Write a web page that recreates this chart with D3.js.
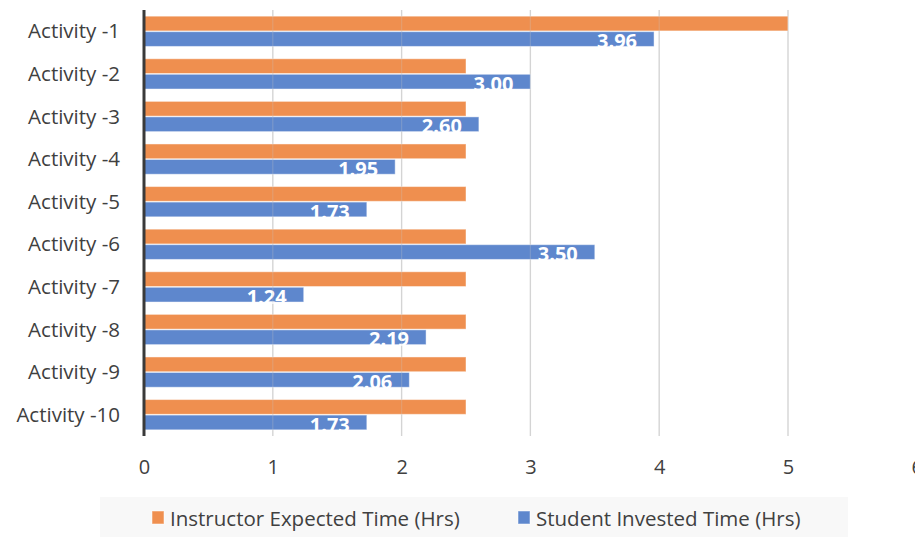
<!DOCTYPE html>
<html>
<head>
<meta charset="utf-8">
<script src="https://cdn.jsdelivr.net/npm/d3@7"></script>
<style>
  html, body { margin: 0; padding: 0; background: #fff; }
  svg { display: block; }
  text { font-family: "Open Sans", sans-serif; }
</style>
</head>
<body>
<svg id="chart" width="915" height="537"></svg>
<script>
const categories = ["Activity -1", "Activity -2", "Activity -3", "Activity -4", "Activity -5",
                    "Activity -6", "Activity -7", "Activity -8", "Activity -9", "Activity -10"];
const expectedHrs = [5, 2.5, 2.5, 2.5, 2.5, 2.5, 2.5, 2.5, 2.5, 2.5];
const investedHrs = [3.96, 3.00, 2.60, 1.95, 1.73, 3.50, 1.24, 2.19, 2.06, 1.73];
const xTicks = [0, 1, 2, 3, 4, 5, 6];
const seriesNames = ["Instructor Expected Time (Hrs)", "Student Invested Time (Hrs)"];
const seriesColors = ["#EF8F4F", "#5E87CD"];

const svg = d3.select("#chart");
const plotLeft = 144, plotTop = 10, plotBottom = 436;

const x = d3.scaleLinear().domain([0, 6]).range([plotLeft, plotLeft + 6 * 128.8]);
const y = d3.scaleBand().domain(categories).range([plotTop, plotBottom]).paddingInner(0.29).paddingOuter(0.145);
const sub = d3.scaleBand().domain([0, 1]).range([0, y.bandwidth()]).paddingInner(0.05);

// vertical gridlines
svg.append("g").selectAll("line").data(xTicks.filter(d => d > 0)).join("line")
  .attr("x1", d => x(d)).attr("x2", d => x(d))
  .attr("y1", plotTop).attr("y2", plotBottom)
  .attr("stroke", "#D9D9D9").attr("stroke-width", 1.3);

// bars
const rows = categories.map((c, i) => ({ c, v: [expectedHrs[i], investedHrs[i]] }));
const groups = svg.append("g").selectAll("g").data(rows).join("g")
  .attr("transform", d => `translate(0,${y(d.c)})`);

groups.selectAll("rect").data(d => d.v.map((v, k) => ({ v, k }))).join("rect")
  .attr("x", x(0))
  .attr("y", d => sub(d.k))
  .attr("width", d => x(d.v) - x(0))
  .attr("height", sub.bandwidth())
  .attr("fill", d => seriesColors[d.k])
  .attr("stroke", "rgba(255,255,255,0.45)")
  .attr("stroke-width", 1);

// value labels on the invested-time bars (white, so the part below the bar disappears)
groups.append("text")
  .attr("x", d => x(d.v[1]) - 17)
  .attr("y", sub(1) + 16.5)
  .attr("text-anchor", "end")
  .attr("fill", "#fff")
  .attr("font-weight", "bold")
  .attr("font-size", 20)
  .text(d => d3.format(".2f")(d.v[1]));

// gridlines faintly showing over the bars
svg.append("g").selectAll("line").data(xTicks.filter(d => d > 0 && d < 6)).join("line")
  .attr("x1", d => x(d)).attr("x2", d => x(d))
  .attr("y1", plotTop).attr("y2", plotBottom)
  .attr("stroke", "rgba(200,200,200,0.25)").attr("stroke-width", 1.3);

// category axis line
svg.append("line")
  .attr("x1", x(0)).attr("x2", x(0))
  .attr("y1", plotTop).attr("y2", plotBottom)
  .attr("stroke", "#3A3A3A").attr("stroke-width", 3);

// category labels
svg.append("g").selectAll("text").data(categories).join("text")
  .attr("x", 120)
  .attr("y", d => y(d) + y.bandwidth() / 2 + 7)
  .attr("text-anchor", "end")
  .attr("fill", "#404040")
  .attr("font-size", 20.5)
  .text(d => d);

// value axis labels
const xAxis = d3.axisBottom(x).tickValues(xTicks).tickFormat(d3.format("d")).tickSize(0).tickPadding(0);
const gx = svg.append("g").attr("transform", `translate(0,${474})`).call(xAxis);
gx.select(".domain").remove();
gx.selectAll("text").attr("font-size", 20).attr("fill", "#404040")
  .attr("font-family", "'Open Sans', sans-serif").attr("dy", 0);

// legend
const legend = svg.append("g");
legend.append("rect").attr("x", 100).attr("y", 497).attr("width", 748).attr("height", 40).attr("fill", "#F8F8F8");
const legendX = [152, 518];
seriesNames.forEach((name, k) => {
  legend.append("rect").attr("x", legendX[k]).attr("y", 511).attr("width", 12).attr("height", 13)
    .attr("fill", seriesColors[k]).attr("stroke", "rgba(255,255,255,0.5)");
  legend.append("text").attr("x", legendX[k] + 18).attr("y", 526)
    .attr("font-size", 20.5).attr("fill", "#404040").text(name);
});
</script>
</body>
</html>
